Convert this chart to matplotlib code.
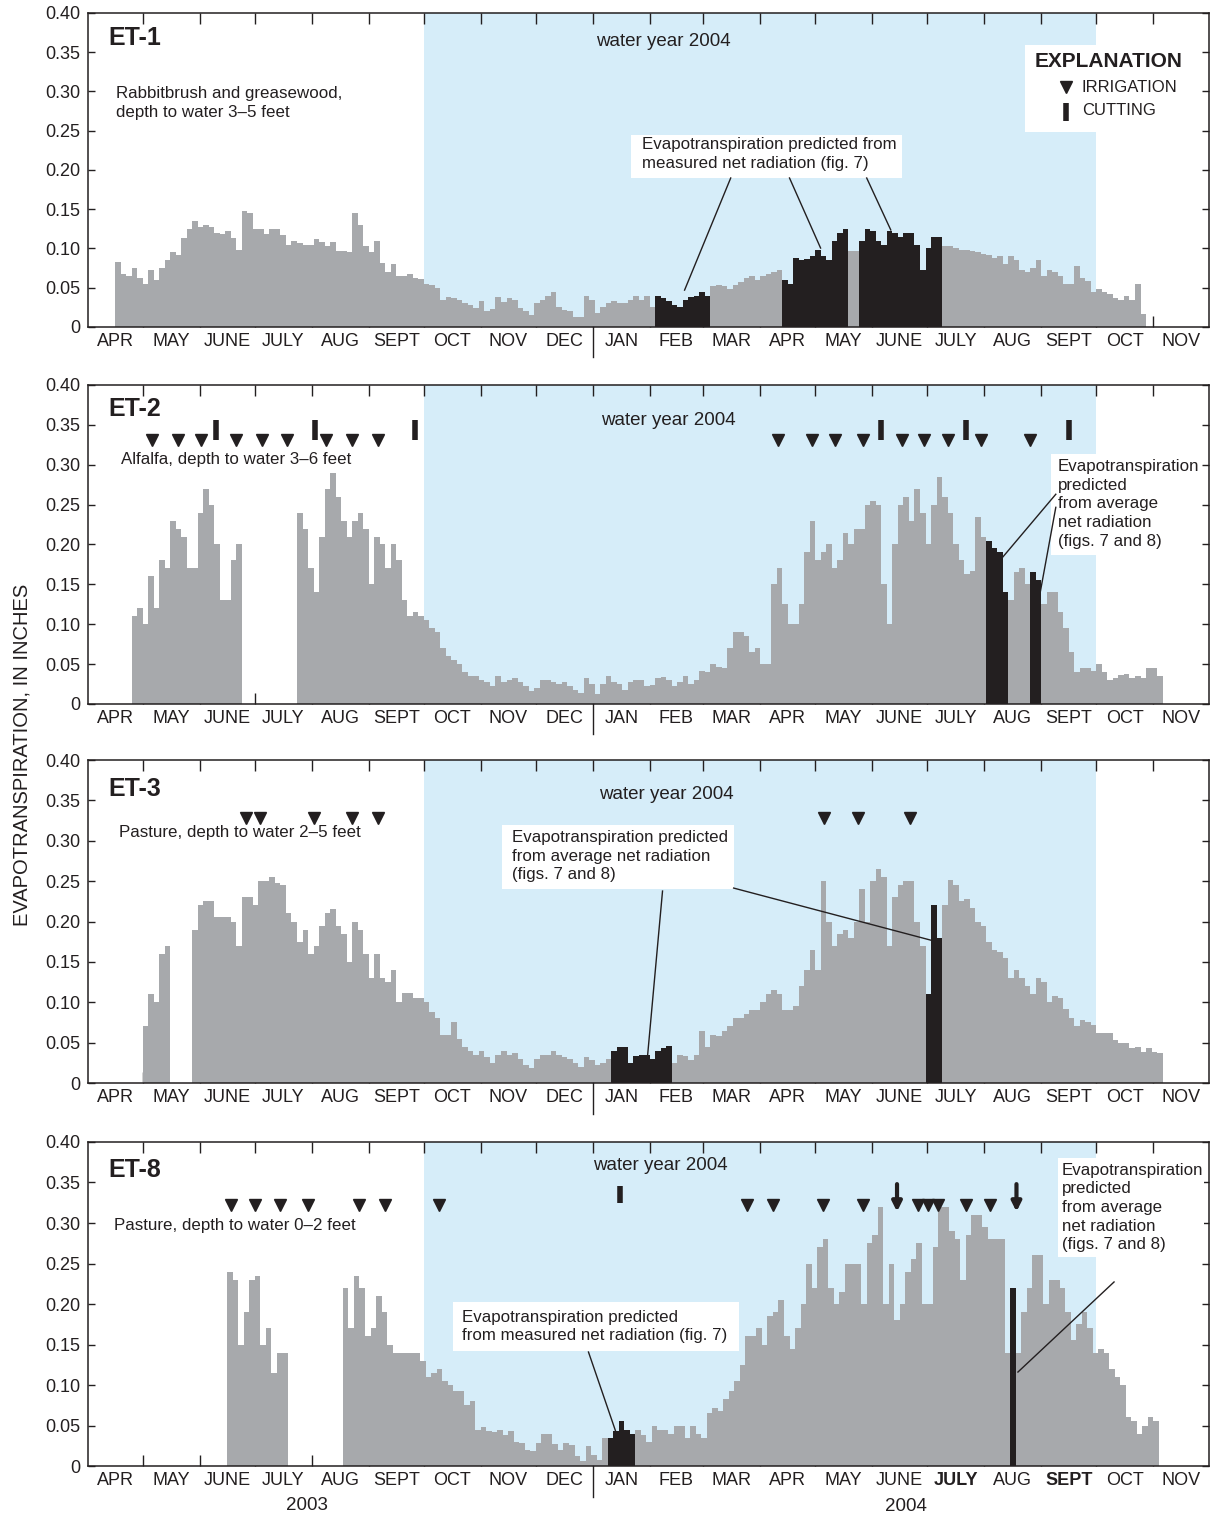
import numpy as np
import matplotlib
matplotlib.use("Agg")
from matplotlib import pyplot as plt
from matplotlib import font_manager
from matplotlib.patches import Rectangle
from matplotlib.transforms import blended_transform_factory

names = set(f.name for f in font_manager.fontManager.ttflist)
FONT = 'Liberation Sans' if 'Liberation Sans' in names else 'DejaVu Sans'
plt.rcParams['font.family'] = [FONT, 'DejaVu Sans']

GRAY = '#a7a9ac'
DARK = '#231f20'
BLUE = '#d6edf9'

# x is days after 2003-04-01; every value is one 3-day bin, inches per day
et1_start = 15
et1_vals = [.083, .068, .065, .075, .063, .055, .072, .060, .075, .085,
            .095, .092, .113, .125, .135, .127, .130, .128, .120, .118,
            .122, .113, .098, .148, .145, .125, .125, .118, .125, .125,
            .117, .105, .110, .107, .105, .105, .112, .108, .103, .108,
            .097, .097, .095, .145, .130, .103, .096, .110, .082, .070,
            .080, .065, .065, .067, .062, .061, .055, .053, .050, .035,
            .038, .037, .035, .030, .028, .024, .033, .020, .023, .038,
            .032, .037, .035, .024, .020, .015, .030, .035, .040, .045,
            .025, .022, .020, .013, .013, .040, .035, .018, .025, .030,
            .033, .030, .030, .035, .040, .035, .040, .025, .040, .037,
            .033, .028, .025, .035, .038, .040, .045, .040, .052, .053,
            .052, .048, .053, .057, .062, .065, .060, .065, .068, .070,
            .073, .060, .055, .088, .085, .087, .090, .098, .090, .085,
            .110, .120, .125, .097, .097, .110, .125, .122, .110, .105,
            .122, .120, .115, .120, .120, .105, .072, .100, .115, .115,
            .103, .103, .100, .098, .098, .097, .095, .093, .092, .088,
            .090, .080, .090, .085, .072, .070, .075, .085, .065, .072,
            .070, .065, .055, .055, .078, .062, .058, .045, .049, .045,
            .042, .037, .034, .040, .035, .055, .017]
et1_measured = [(309, 339), (378, 414), (420, 465)]

et2_start = 24
et2_vals = [.110, .120, .100, .160, .120, .180, .170, .230, .220, .210,
            .170, .170, .240, .270, .250, .200, .130, .130, .180, .200,
            0, 0, 0, 0, 0, 0, 0, 0, 0, 0,
            .240, .220, .170, .140, .210, .270, .290, .260, .230, .210,
            .230, .240, .220, .150, .210, .200, .170, .200, .180, .130,
            .110, .115, .110, .105, .095, .090, .070, .060, .055, .050,
            .040, .035, .035, .030, .027, .022, .035, .028, .030, .033,
            .027, .022, .016, .020, .030, .030, .028, .025, .027, .022,
            .018, .014, .032, .025, .013, .025, .035, .028, .025, .018,
            .027, .030, .030, .022, .024, .033, .034, .030, .022, .028,
            .035, .025, .030, .042, .040, .050, .047, .045, .070, .090,
            .090, .085, .065, .070, .050, .050, .150, .170, .125, .100,
            .100, .125, .190, .230, .180, .190, .200, .170, .180, .215,
            .200, .220, .220, .250, .255, .250, .150, .100, .200, .250,
            .260, .230, .270, .240, .200, .250, .285, .260, .240, .200,
            .180, .163, .167, .235, .210, .205, .195, .190, .140, .130,
            .165, .170, .150, .165, .155, .125, .140, .140, .115, .095,
            .065, .040, .045, .045, .042, .050, .040, .030, .032, .036,
            .037, .033, .035, .033, .045, .045, .035]
et2_average = [(489, 501), (513, 519)]
et2_irrigation = [35, 49, 62, 81, 95, 108.5, 130, 144, 158,
                  376, 394, 407, 422, 443, 455, 468, 486, 513]
et2_cutting = [70, 124, 178, 432, 478, 534]

et3_start = 30
et3_vals = [.070, .110, .100, .160, .170, 0, 0, 0, 0, .190,
            .220, .225, .225, .205, .205, .205, .200, .170, .230, .230,
            .220, .250, .250, .255, .248, .245, .210, .200, .175, .190,
            .160, .170, .195, .210, .215, .195, .185, .150, .200, .190,
            .160, .130, .160, .130, .125, .140, .100, .112, .112, .105,
            .105, .100, .088, .080, .060, .060, .075, .055, .045, .040,
            .035, .040, .032, .025, .035, .040, .035, .037, .030, .022,
            .018, .030, .035, .035, .040, .035, .032, .030, .025, .020,
            .032, .028, .022, .025, .030, .040, .045, .045, .025, .033,
            .035, .035, .030, .040, .043, .046, .025, .035, .033, .028,
            .035, .065, .045, .060, .058, .065, .070, .080, .080, .085,
            .090, .090, .100, .110, .115, .110, .090, .090, .095, .120,
            .140, .165, .140, .250, .200, .170, .185, .190, .180, .200,
            .240, .200, .250, .265, .255, .170, .230, .245, .250, .250,
            .200, .170, .110, .220, .180, .220, .252, .245, .225, .228,
            .217, .200, .195, .175, .165, .162, .155, .130, .140, .130,
            .120, .110, .130, .125, .100, .108, .105, .092, .080, .070,
            .078, .076, .072, .062, .062, .062, .053, .050, .050, .043,
            .045, .038, .043, .038, .037]
et3_average = [(285, 318), (456, 465)]
et3_irrigation = [86, 94, 123, 144, 158, 401, 419.5, 447.5]

et8_start = 76
et8_vals = [.240, .230, .150, .190, .230, .235, .150, .170, .115, .140,
            .140, 0, 0, 0, 0, 0, 0, 0, 0, 0,
            0, .220, .170, .235, .220, .160, .170, .210, .190, .150,
            .140, .140, .140, .140, .140, .130, .110, .115, .120, .105,
            .100, .093, .092, .075, .080, .045, .048, .043, .042, .045,
            .038, .043, .030, .028, .020, .018, .028, .040, .040, .027,
            .020, .028, .026, .012, .006, .025, .013, .008, .035, .035,
            .043, .055, .045, .040, .045, .038, .030, .050, .045, .045,
            .040, .050, .050, .035, .050, .040, .035, .065, .072, .068,
            .083, .092, .105, .125, .160, .160, .170, .150, .185, .190,
            .205, .160, .145, .170, .200, .250, .220, .270, .280, .220,
            .200, .215, .250, .250, .250, .200, .275, .285, .320, .200,
            .250, .180, .200, .240, .255, .275, .200, .200, .270, .320,
            .320, .290, .280, .230, .285, .310, .310, .295, .280, .280,
            .280, .140, .220, .140, .190, .220, .260, .260, .200, .230,
            .230, .220, .190, .155, .175, .190, .170, .140, .145, .140,
            .120, .110, .100, .060, .055, .040, .050, .060, .055]
et8_measured = [(283, 296)]
et8_average = [(502, 505)]
et8_irrigation = [78, 91, 105, 120, 148, 162, 191, 359, 373, 400,
                  422, 452, 457.5, 463, 478, 491]
et8_cutting = [290]
et8_arrows = [440.5, 505.5]

month_names = ['APR', 'MAY', 'JUNE', 'JULY', 'AUG', 'SEPT', 'OCT', 'NOV', 'DEC',
               'JAN', 'FEB', 'MAR', 'APR', 'MAY', 'JUNE', 'JULY', 'AUG', 'SEPT',
               'OCT', 'NOV']
months = np.arange('2003-04', '2005-01', dtype='datetime64[M]')
bounds = (months.astype('datetime64[D]') - np.datetime64('2003-04-01')).astype(int)
mids = (bounds[:-1] + bounds[1:]) / 2.0
jan04 = int((np.datetime64('2004-01-01') - np.datetime64('2003-04-01')).astype(int))
wy_start = int((np.datetime64('2003-10-01') - np.datetime64('2003-04-01')).astype(int))
wy_end = int((np.datetime64('2004-10-01') - np.datetime64('2003-04-01')).astype(int))

fig = plt.figure(figsize=(12.13, 15.19), dpi=100)
rects = [(0.07214, 0.78473, 0.92416, 0.20672),
         (0.07214, 0.53654, 0.92416, 0.21001),
         (0.07214, 0.28703, 0.92416, 0.21264),
         (0.07214, 0.03489, 0.92416, 0.21330)]
axes = [fig.add_axes(r) for r in rects]

TXT = 12.2
LS = 1.3


def base(ax, start, vals, black):
    ax.axvspan(wy_start, wy_end, color=BLUE, lw=0, zorder=0)
    x = start + 3 * np.arange(len(vals))
    cols = [DARK if any(a <= xi < b for a, b in black) else GRAY for xi in x]
    ax.bar(x, vals, width=3, align='edge', color=cols, linewidth=0, zorder=2)
    ax.set_xlim(0, bounds[-1])
    ax.set_ylim(0, 0.40)
    ax.set_xticks(bounds[1:-1])
    ax.set_xticklabels([])
    ax.set_xticks(mids, minor=True)
    ax.set_xticklabels(month_names, minor=True)
    ax.tick_params(axis='x', which='major', direction='in', length=8, width=1.0,
                   top=True, color=DARK)
    ax.tick_params(axis='x', which='minor', length=0, pad=4, labelsize=13,
                   labelcolor=DARK)
    yt = np.arange(0, 0.401, 0.05)
    ax.set_yticks(yt)
    ax.set_yticklabels(['0'] + ['%.2f' % v for v in yt[1:]])
    ax.tick_params(axis='y', direction='in', length=5, width=1.0, right=True,
                   labelsize=13, pad=5, color=DARK, labelcolor=DARK)
    for s in ax.spines.values():
        s.set_linewidth(1.1)
        s.set_color(DARK)
    tr = blended_transform_factory(ax.transData, ax.transAxes)
    ax.plot([jan04, jan04], [0, -0.095], transform=tr, color=DARK, lw=1.0,
            clip_on=False)


def box(ax, x0, x1, y0, y1, tx, ty, text):
    ax.add_patch(Rectangle((x0, y0), x1 - x0, y1 - y0, facecolor='white',
                           edgecolor='none', zorder=4))
    ax.text(tx, ty, text, fontsize=TXT, color=DARK, ha='left', va='center',
            linespacing=LS, zorder=6)


def leader(ax, p0, p1):
    ax.plot([p0[0], p1[0]], [p0[1], p1[1]], color=DARK, lw=1.0, zorder=5)


def title(ax, name, ty, wy, desc, dx, dy):
    ax.text(11.2, ty, name, fontsize=18, fontweight='bold', color=DARK,
            va='center', zorder=6)
    ax.text(wy[0], wy[1], 'water year 2004', fontsize=13.5, color=DARK,
            ha='center', va='center', zorder=6)
    ax.text(dx, dy, desc, fontsize=TXT, color=DARK, va='center',
            linespacing=LS, zorder=6)


def marks(ax, irr, y, cut=(), cy=(0.33, 0.356)):
    ax.plot(irr, [y] * len(irr), linestyle='none', marker='v', ms=9,
            color=DARK, zorder=6)
    if len(cut):
        ax.vlines(cut, cy[0], cy[1], colors=DARK, lw=4, zorder=6)


# ---------------- ET-1 ----------------
ax = axes[0]
base(ax, et1_start, et1_vals, et1_measured)
title(ax, 'ET-1', 0.368, (313.4, 0.364),
      'Rabbitbrush and greasewood,\ndepth to water 3\u20135 feet', 15.5, 0.2854)
box(ax, 295.5, 443.1, 0.1898, 0.2446, 301.5, 0.2204,
    'Evapotranspiration predicted from\nmeasured net radiation (fig. 7)')
leader(ax, (350, 0.1898), (324.9, 0.047))
leader(ax, (382, 0.1898), (398.9, 0.1006))
leader(ax, (424, 0.1898), (437.1, 0.1236))
ax.add_patch(Rectangle((0.8363, 0.621), 0.1517, 0.277, transform=ax.transAxes,
                       facecolor='white', edgecolor='none', zorder=4))
ax.text(0.911, 0.847, 'EXPLANATION', transform=ax.transAxes, fontsize=15,
        fontweight='bold', color=DARK, ha='center', va='center', zorder=6)
ax.plot([0.873], [0.764], transform=ax.transAxes, marker='v', ms=9,
        color=DARK, zorder=6)
ax.text(0.887, 0.764, 'IRRIGATION', transform=ax.transAxes, fontsize=12,
        color=DARK, va='center', zorder=6)
ax.plot([0.873, 0.873], [0.656, 0.713], transform=ax.transAxes, lw=4,
        color=DARK, zorder=6, solid_capstyle='butt')
ax.text(0.887, 0.688, 'CUTTING', transform=ax.transAxes, fontsize=12,
        color=DARK, va='center', zorder=6)

# ---------------- ET-2 ----------------
ax = axes[1]
base(ax, et2_start, et2_vals, et2_average)
title(ax, 'ET-2', 0.370, (316.2, 0.356),
      'Alfalfa, depth to water 3\u20136 feet', 18.2, 0.307)
marks(ax, et2_irrigation, 0.331, et2_cutting, (0.331, 0.356))
box(ax, 524.2, 605.9, 0.1874, 0.3132, 528, 0.251,
    'Evapotranspiration\npredicted\nfrom average\nnet radiation\n(figs. 7 and 8)')
leader(ax, (526.9, 0.263), (495.4, 0.177))
leader(ax, (526.9, 0.2466), (514.9, 0.0956))

# ---------------- ET-3 ----------------
ax = axes[2]
base(ax, et3_start, et3_vals, et3_average)
title(ax, 'ET-3', 0.364, (315.1, 0.3578),
      'Pasture, depth to water 2\u20135 feet', 17.2, 0.3107)
marks(ax, et3_irrigation, 0.328)
box(ax, 225.8, 351.6, 0.2402, 0.3194, 231.2, 0.281,
    'Evapotranspiration predicted\nfrom average net radiation\n(figs. 7 and 8)')
leader(ax, (312.9, 0.2377), (304.7, 0.0322))
leader(ax, (351.6, 0.2414), (462.7, 0.1746))

# ---------------- ET-8 ----------------
ax = axes[3]
base(ax, et8_start, et8_vals, et8_measured + et8_average)
title(ax, 'ET-8', 0.3654, (311.8, 0.3704),
      'Pasture, depth to water 0\u20132 feet', 14.4, 0.2963)
marks(ax, et8_irrigation, 0.322, et8_cutting, (0.325, 0.346))
for xa in et8_arrows:
    ax.annotate('', xy=(xa, 0.314), xytext=(xa, 0.348),
                arrowprops=dict(arrowstyle='-|>', lw=3, color=DARK,
                                mutation_scale=14, shrinkA=0, shrinkB=0),
                zorder=6)
box(ax, 199.1, 354.3, 0.142, 0.2025, 204, 0.1722,
    'Evapotranspiration predicted\nfrom measured net radiation (fig. 7)')
leader(ax, (272.6, 0.1407), (287.9, 0.0395))
box(ax, 528, 607.5, 0.258, 0.3802, 530.2, 0.3191,
    'Evapotranspiration\npredicted\nfrom average\nnet radiation\n(figs. 7 and 8)')
leader(ax, (558.6, 0.2272), (506.3, 0.116))
lbls = ax.get_xticklabels(minor=True)
lbls[15].set_fontweight('bold')
lbls[17].set_fontweight('bold')
tr = blended_transform_factory(ax.transData, ax.transAxes)
ax.text(119.5, -0.123, '2003', transform=tr, fontsize=13.5, color=DARK,
        ha='center', va='center')
ax.text(445.2, -0.126, '2004', transform=tr, fontsize=13.5, color=DARK,
        ha='center', va='center')

fig.text(0.018, 0.503, 'EVAPOTRANSPIRATION, IN INCHES', rotation=90,
         fontsize=14.5, color=DARK, ha='center', va='center')

fig.savefig('out.png', dpi=100)
